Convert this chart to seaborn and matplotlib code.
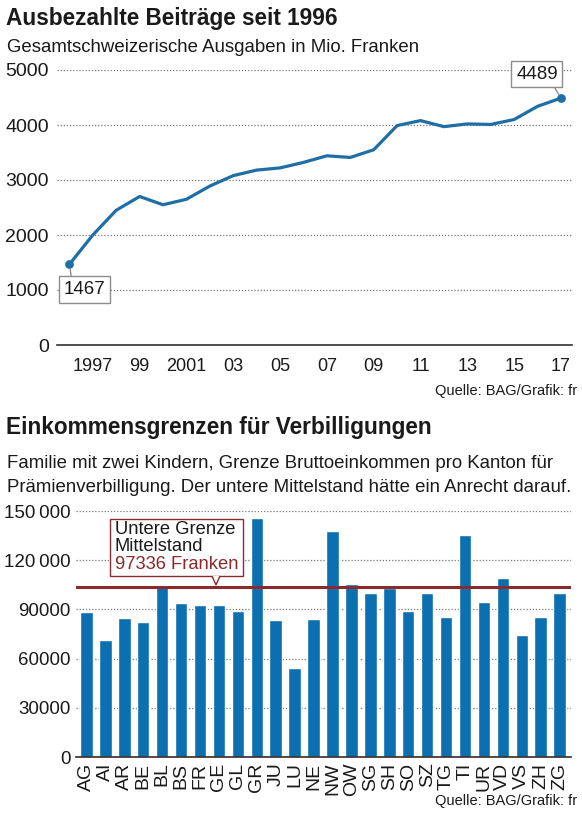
import numpy as np
import matplotlib
matplotlib.use("Agg")
import matplotlib.pyplot as plt
from matplotlib.ticker import FixedLocator
from matplotlib.patches import Rectangle, Polygon
from matplotlib.transforms import Bbox
import seaborn as sns

# ==========================================
# DATA
# ==========================================
jahre = list(range(1996, 2018))
ausgaben = [1467, 2000, 2450, 2700, 2550, 2650, 2890, 3080, 3180, 3220, 3320,
            3440, 3410, 3550, 3990, 4080, 3970, 4020, 4010, 4100, 4340, 4489]
jahr_labels = ["1997", "99", "2001", "03", "05", "07", "09", "11", "13", "15", "17"]
jahr_label_pos = [1997, 1999, 2001, 2003, 2005, 2007, 2009, 2011, 2013, 2015, 2017]

kantone = ["AG", "AI", "AR", "BE", "BL", "BS", "FR", "GE", "GL", "GR", "JU", "LU", "NE", "NW",
           "OW", "SG", "SH", "SO", "SZ", "TG", "TI", "UR", "VD", "VS", "ZH", "ZG"]
grenzen = [88600, 71400, 84500, 82100, 104400, 93700, 92800, 92800, 88800, 145900, 83500,
           54300, 84100, 137600, 105200, 100100, 103200, 88800, 100100, 85500, 135200,
           94500, 108900, 74200, 85500, 100100]
grenze_linie = 103600          # level where the red line is drawn
grenze_text = "97336 Franken"

top_yticks = [0, 1000, 2000, 3000, 4000, 5000]
bot_yticks = [0, 30000, 60000, 90000, 120000, 150000]
bot_ylabels = ["0", "30000", "60000", "90000", "120\u2009000", "150\u2009000"]

# ==========================================
# STYLE
# ==========================================
sns.set_style("white")
plt.rcParams["font.family"] = ["Liberation Sans", "DejaVu Sans"]

BLAU = "#1f6fa6"
BAR = "#0b6fb0"
ROT = "#8a2a2c"
GRID = "#777777"
GRAU = "#8c8c8c"
TXT = "#1a1a1a"

W, H = 582, 817
fig = plt.figure(figsize=(W / 100, H / 100), dpi=100)


def fx(px):
    return px / W


def fy(py):
    return 1 - py / H


def pix(px, py):
    return (fx(px), fy(py))


# ==========================================
# CHART 1: line
# ==========================================
fig.text(fx(6), fy(18), "Ausbezahlte Beiträge seit 1996", fontsize=16.3,
         fontweight="bold", color=TXT, va="center", ha="left")
fig.text(fx(7), fy(48), "Gesamtschweizerische Ausgaben in Mio. Franken", fontsize=13.4,
         color=TXT, va="center", ha="left")

ax1 = fig.add_axes([fx(57), fy(345), fx(572) - fx(57), fy(70) - fy(345)])
sns.lineplot(x=jahre, y=ausgaben, color=BLAU, linewidth=2.3, ax=ax1, zorder=3)
ax1.scatter([jahre[0], jahre[-1]], [ausgaben[0], ausgaben[-1]], s=28, color=BLAU, zorder=4)

ax1.set_xlim(1995.47, 2017.47)
ax1.set_ylim(0, 5000)
ax1.set_yticks(top_yticks)
ax1.set_yticklabels([str(v) for v in top_yticks])
ax1.yaxis.grid(True, linestyle=(0, (1, 1.5)), color=GRID, linewidth=0.9)
ax1.xaxis.set_major_locator(FixedLocator(jahr_label_pos))
ax1.set_xticklabels(jahr_labels)
ax1.xaxis.set_minor_locator(FixedLocator([j for j in jahre if j not in jahr_label_pos]))
ax1.tick_params(axis="x", which="both", direction="in", length=6, width=1, color="#333333",
                labelsize=13, pad=9, labelcolor=TXT)
ax1.tick_params(axis="y", length=0, labelsize=14, pad=6, labelcolor=TXT)
for s in ["top", "right", "left"]:
    ax1.spines[s].set_visible(False)
ax1.spines["bottom"].set_color("#333333")
ax1.spines["bottom"].set_linewidth(1.2)
ax1.set_xlabel("")
ax1.set_ylabel("")

box_grau = dict(boxstyle="square,pad=0.25", fc="white", ec=GRAU, lw=1)
ax1.annotate(str(ausgaben[0]), xy=(jahre[0], ausgaben[0]), xytext=(15, -25),
             textcoords="offset pixels", ha="center", va="center", fontsize=13.5,
             color=TXT, bbox=box_grau, zorder=5,
             arrowprops=dict(arrowstyle="-", color=GRAU, lw=1, shrinkA=0, shrinkB=3,
                             relpos=(0.2, 1.0)))
ax1.annotate(str(ausgaben[-1]), xy=(jahre[-1], ausgaben[-1]), xytext=(-24, 24),
             textcoords="offset pixels", ha="center", va="center", fontsize=13.5,
             color=TXT, bbox=box_grau, zorder=5, annotation_clip=False,
             arrowprops=dict(arrowstyle="-", color=GRAU, lw=1, shrinkA=0, shrinkB=3,
                             relpos=(0.85, 0.0)))

fig.text(fx(577), fy(391), "Quelle: BAG/Grafik: fr", fontsize=10.5, color=TXT,
         ha="right", va="center")

# ==========================================
# CHART 2: bars
# ==========================================
fig.text(fx(6), fy(428), "Einkommensgrenzen für Verbilligungen", fontsize=16.3,
         fontweight="bold", color=TXT, va="center", ha="left")
fig.text(fx(7), fy(463), "Familie mit zwei Kindern, Grenze Bruttoeinkommen pro Kanton für",
         fontsize=13.4, color=TXT, va="center", ha="left")
fig.text(fx(7), fy(487), "Prämienverbilligung. Der untere Mittelstand hätte ein Anrecht darauf.",
         fontsize=13.4, color=TXT, va="center", ha="left")

ax2 = fig.add_axes([fx(76), fy(757), fx(571) - fx(76), fy(511) - fy(757)])
sns.barplot(x=kantone, y=grenzen, color=BAR, saturation=1, width=0.66, ax=ax2, zorder=2)
ax2.set_xlim(-0.55, len(kantone) - 0.4)
ax2.set_ylim(0, 150000)
ax2.set_yticks(bot_yticks)
ax2.set_yticklabels(bot_ylabels)
ax2.yaxis.grid(True, linestyle=(0, (1, 1.5)), color=GRID, linewidth=0.9, zorder=0)
ax2.set_axisbelow(True)
ax2.tick_params(axis="y", length=0, labelsize=13.5, pad=4, labelcolor=TXT)
ax2.tick_params(axis="x", length=0, labelsize=14, pad=4, labelrotation=90, labelcolor=TXT)
for s in ["top", "right", "left"]:
    ax2.spines[s].set_visible(False)
ax2.spines["bottom"].set_color("#3a2a2a")
ax2.spines["bottom"].set_linewidth(1.2)
ax2.set_xlabel("")
ax2.set_ylabel("")

ax2.axhline(grenze_linie, color=ROT, linewidth=2.2, zorder=3)

# callout box: two black lines, one maroon line, framed in maroon
t_schwarz = fig.text(fx(115), fy(521), "Untere Grenze\nMittelstand", fontsize=13.2,
                     linespacing=1.0, color=TXT, ha="left", va="top", zorder=6)
t_rot = fig.text(fx(115), fy(556), grenze_text, fontsize=13.2, color=ROT,
                 ha="left", va="top", zorder=6)
fig.canvas.draw()
r = fig.canvas.get_renderer()
bb = Bbox.union([t_schwarz.get_window_extent(r), t_rot.get_window_extent(r)])
x0, x1 = bb.x0 - 5, bb.x1 + 4
y_top, y_bot = H - bb.y1 - 2, H - bb.y0 + 3
fig.add_artist(Rectangle(pix(x0, y_bot), fx(x1) - fx(x0), fy(y_top) - fy(y_bot),
                         transform=fig.transFigure, fc="white", ec=ROT, lw=1, zorder=5))
spitze_x = x0 + 0.8 * (x1 - x0)
fig.add_artist(Polygon([pix(spitze_x - 4, y_bot), pix(spitze_x, y_bot + 9),
                        pix(spitze_x + 4, y_bot)], closed=False,
                       transform=fig.transFigure, fc="white", ec=ROT, lw=1, zorder=5.5))

fig.text(fx(577), fy(801), "Quelle: BAG/Grafik: fr", fontsize=10.5, color=TXT,
         ha="right", va="center")

fig.savefig("out.png", dpi=100)
